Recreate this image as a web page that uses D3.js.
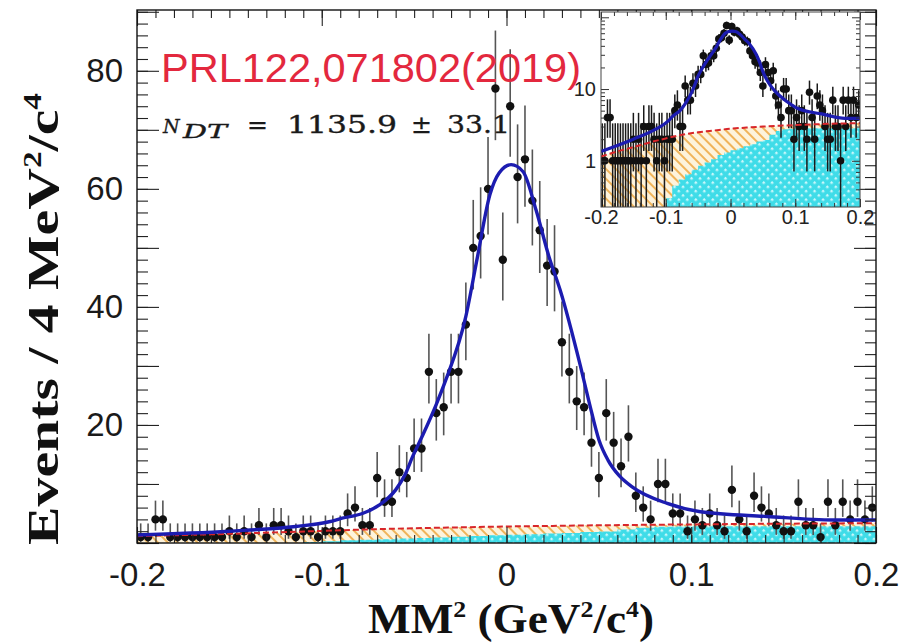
<!DOCTYPE html>
<html>
<head>
<meta charset="utf-8">
<script src="https://cdn.jsdelivr.net/npm/d3@7"></script>
<style>
  html, body { margin: 0; padding: 0; background: #fff; }
  svg { display: block; }
</style>
</head>
<body>
<svg id="chart" width="910" height="644"></svg>
<script>
// ---- data -------------------------------------------------------------
// MM^2 spectrum, 100 bins of 4 MeV^2/c^4 covering [-0.2, 0.2] GeV^2/c^4
const binLow = -0.2;
const binWidth = 0.004;
const counts = [
  1, 1, 4, 4, 1, 1, 1, 1, 1, 1,
  1, 1, 2, 1, 2, 1, 3, 1, 3, 3,
  2, 1, 2, 2, 1, 2, 2, 2, 5, 6,
  3, 3, 11, 7, 7, 12, 11, 16, 16, 29,
  22, 23, 29, 29, 37, 50, 52, 60, 77, 48,
  74, 62, 65, 58, 53, 47, 46, 34, 29, 24,
  23, 17, 11, 22, 17, 13, 18, 8, 6, 4,
  10, 10, 5, 5, 2, 4, 3, 5, 3, 2,
  9, 4, 2, 8, 6, 5, 3, 2, 2, 7,
  3, 3, 1, 7, 3, 7, 4, 7, 4, 6
];

// total fit (signal + background), sampled along MM^2
const fitX = [-0.200, -0.150, -0.114, -0.096, -0.089, -0.078, -0.069, -0.060, -0.055, -0.051,
              -0.045, -0.038, -0.033, -0.022, -0.016, -0.009, -0.004, 0.0025, 0.009, 0.016,
              0.023, 0.029, 0.040, 0.045, 0.050, 0.055, 0.061, 0.068, 0.087, 0.105,
              0.141, 0.177, 0.200];
const fitY = [1.35, 2.0, 2.8, 3.6, 4.2, 5.0, 6.4, 9.0, 11.5, 14.5,
              18.5, 23.5, 27.5, 38.4, 48.0, 59.0, 62.7, 64.1, 62.9, 56.4,
              48.5, 42.9, 30.0, 23.5, 17.5, 14.0, 11.4, 9.5, 6.7, 5.3,
              4.5, 3.9, 3.9];

// total background shape (red dashed)
const bkgX = [-0.200, -0.175, -0.150, -0.125, -0.100, -0.075, -0.050, -0.025, 0.000,
              0.025, 0.050, 0.075, 0.100, 0.150, 0.200];
const bkgY = [1.15, 1.35, 1.55, 1.8, 2.05, 2.3, 2.5, 2.65, 2.8,
              2.9, 3.0, 3.08, 3.15, 3.27, 3.35];

// peaking background component (cyan), 40 bins of 0.01 from -0.2
const peakBkgWidth = 0.01;
const peakBkg = [
  0, 0, 0, 0, 0, 0, 0, 0, 0, 0.15,
  0.3, 0.45, 0.55, 0.65, 0.75, 0.85, 0.95, 1.05, 1.2, 1.3,
  1.4, 1.5, 1.6, 1.7, 1.85, 1.95, 2.3, 2.6, 2.75, 2.8,
  2.85, 2.85, 2.85, 2.85, 2.85, 2.85, 2.85, 2.85, 2.85, 2.85
];

const xTickLabels = [-0.2, -0.1, 0, 0.1, 0.2];
const yTickLabels = [20, 40, 60, 80];
const insetYTickLabels = [1, 10];

// ---- helpers ----------------------------------------------------------
const centers = counts.map((_, i) => binLow + binWidth * (i + 0.5));
// approximate 68% Poisson interval (Gehrels)
const errLo = n => n === 0 ? 0 : n * Math.pow(1 - 1 / (9 * n) - 1 / (3 * Math.sqrt(n)), 3);
const errHi = n => n + 1 + Math.sqrt(n + 0.75);
const fmtX = d => d === 0 ? "0" : String(+d.toFixed(1));

const svg = d3.select("#chart");
const defs = svg.append("defs");

// hatch patterns
const po = defs.append("pattern").attr("id", "hatchOrange")
  .attr("patternUnits", "userSpaceOnUse").attr("width", 7).attr("height", 7)
  .attr("patternTransform", "rotate(-45)");
po.append("rect").attr("width", 7).attr("height", 7).attr("fill", "#fdf3dc");
po.append("line").attr("x1", 0).attr("y1", 0).attr("x2", 0).attr("y2", 7)
  .attr("stroke", "#f0b45a").attr("stroke-width", 4);

const pc = defs.append("pattern").attr("id", "hatchCyan")
  .attr("patternUnits", "userSpaceOnUse").attr("width", 6).attr("height", 6)
  .attr("patternTransform", "rotate(45)");
pc.append("rect").attr("width", 6).attr("height", 6).attr("fill", "#3fdce8");
pc.append("rect").attr("x", 2).attr("y", 2).attr("width", 2.4).attr("height", 2.4).attr("fill", "#c8f7fa");

// ---- main panel -------------------------------------------------------
const M = { x0: 137, x1: 876, y0: 10, y1: 543 };
const x = d3.scaleLinear().domain([-0.2, 0.2]).range([M.x0, M.x1]);
const y = d3.scaleLinear().domain([0, 90.3]).range([M.y1, M.y0]);

defs.append("clipPath").attr("id", "clipMain").append("rect")
  .attr("x", M.x0).attr("y", M.y0).attr("width", M.x1 - M.x0).attr("height", M.y1 - M.y0);

function drawPanel(g, xs, ys, opt) {
  const floor = ys.domain()[0];
  const cl = v => Math.max(v, floor);
  // stacked background: orange up to the total, cyan component in front
  const totArea = d3.area().x((d, i) => xs(bkgX[i])).y0(ys(floor)).y1((d, i) => ys(cl(d)))
    .curve(d3.curveMonotoneX);
  g.append("path").datum(bkgY).attr("d", totArea).attr("fill", "url(#hatchOrange)");
  const stepPts = [];
  peakBkg.forEach((v, i) => {
    stepPts.push([binLow + i * peakBkgWidth, v]);
    stepPts.push([binLow + (i + 1) * peakBkgWidth, v]);
  });
  const cyArea = d3.area().x(d => xs(d[0])).y0(ys(floor)).y1(d => ys(cl(d[1])));
  g.append("path").datum(stepPts).attr("d", cyArea).attr("fill", "url(#hatchCyan)");

  // data with error bars
  const eb = g.append("g");
  counts.forEach((n, i) => {
    eb.append("line")
      .attr("x1", xs(centers[i])).attr("x2", xs(centers[i]))
      .attr("y1", ys(cl(errLo(n)))).attr("y2", ys(errHi(n)))
      .attr("stroke", opt.errColor).attr("stroke-width", opt.errWidth);
  });
  g.append("g").selectAll("circle")
    .data(counts.map((n, i) => [centers[i], n]).filter(d => d[1] > 0 || !opt.log))
    .join("circle")
    .attr("cx", d => xs(d[0])).attr("cy", d => ys(cl(d[1])))
    .attr("r", opt.r).attr("fill", "#111");

  // total background line
  const bl = d3.line().x((d, i) => xs(bkgX[i])).y((d, i) => ys(cl(d))).curve(d3.curveMonotoneX);
  g.append("path").datum(bkgY).attr("d", bl).attr("fill", "none")
    .attr("stroke", "#d8262a").attr("stroke-width", opt.bkgWidth).attr("stroke-dasharray", "6,3");

  // total fit
  const fl = d3.line().x((d, i) => xs(fitX[i])).y((d, i) => ys(cl(d))).curve(d3.curveMonotoneX);
  g.append("path").datum(fitY).attr("d", fl).attr("fill", "none")
    .attr("stroke", "#1c1cb0").attr("stroke-width", opt.fitWidth);
}

const main = svg.append("g").attr("clip-path", "url(#clipMain)");
drawPanel(main, x, y, { r: 4.2, errColor: "#555", errWidth: 1.6, bkgWidth: 2, fitWidth: 3.4, log: false });

// main axes
const axisFont = "'Liberation Sans', Arial, sans-serif";
const xMinor = d3.range(0, 41).map(i => +(binLow + 0.01 * i).toFixed(3));
const yMinor = d3.range(0, 91, 2);
const yMajor = d3.range(0, 91, 10);

function tickStyle(sel) {
  sel.select(".domain").remove();
  sel.selectAll(".tick line").attr("stroke", "#222").attr("stroke-width", 1.1);
}

svg.append("g").attr("transform", `translate(0,${M.y1})`)
  .call(d3.axisBottom(x).tickValues(xMinor).tickSize(-8).tickFormat(""))
  .call(tickStyle);
svg.append("g").attr("transform", `translate(0,${M.y1})`)
  .call(d3.axisBottom(x).tickValues(xTickLabels).tickSize(-16).tickPadding(43).tickFormat(fmtX))
  .call(tickStyle)
  .call(g => g.selectAll("text").attr("font-family", axisFont).attr("font-size", 33)
    .attr("fill", "#1a1a1a").attr("dy", "0"));
svg.append("g").attr("transform", `translate(0,${M.y0})`)
  .call(d3.axisTop(x).tickValues(xMinor).tickSize(-8).tickFormat(""))
  .call(tickStyle);
svg.append("g").attr("transform", `translate(0,${M.y0})`)
  .call(d3.axisTop(x).tickValues(xTickLabels).tickSize(-16).tickFormat(""))
  .call(tickStyle);

svg.append("g").attr("transform", `translate(${M.x0},0)`)
  .call(d3.axisLeft(y).tickValues(yMinor).tickSize(-11).tickFormat(""))
  .call(tickStyle);
svg.append("g").attr("transform", `translate(${M.x0},0)`)
  .call(d3.axisLeft(y).tickValues(yMajor).tickSize(-22).tickFormat(""))
  .call(tickStyle);
svg.append("g").attr("transform", `translate(${M.x0},0)`)
  .call(d3.axisLeft(y).tickValues(yTickLabels).tickSize(0).tickPadding(14).tickFormat(d3.format("d")))
  .call(tickStyle)
  .call(g => g.selectAll("text").attr("font-family", axisFont).attr("font-size", 33).attr("fill", "#1a1a1a"));
svg.append("g").attr("transform", `translate(${M.x1},0)`)
  .call(d3.axisRight(y).tickValues(yMinor).tickSize(-11).tickFormat(""))
  .call(tickStyle);
svg.append("g").attr("transform", `translate(${M.x1},0)`)
  .call(d3.axisRight(y).tickValues(yMajor).tickSize(-22).tickFormat(""))
  .call(tickStyle);

svg.append("rect").attr("x", M.x0).attr("y", M.y0)
  .attr("width", M.x1 - M.x0).attr("height", M.y1 - M.y0)
  .attr("fill", "none").attr("stroke", "#111").attr("stroke-width", 1.4);

// axis titles
const titleFont = "'Liberation Serif', 'Times New Roman', serif";
const xt = svg.append("text").attr("x", 511).attr("y", 633).attr("text-anchor", "middle")
  .attr("font-family", titleFont).attr("font-weight", "bold").attr("font-size", 42).attr("fill", "#111")
  .attr("textLength", 286).attr("lengthAdjust", "spacingAndGlyphs");
xt.append("tspan").text("MM");
xt.append("tspan").attr("dy", -16).attr("font-size", 24).text("2");
xt.append("tspan").attr("dy", 16).text(" (GeV");
xt.append("tspan").attr("dy", -16).attr("font-size", 24).text("2");
xt.append("tspan").attr("dy", 16).text("/c");
xt.append("tspan").attr("dy", -16).attr("font-size", 24).text("4");
xt.append("tspan").attr("dy", 16).text(")");

const yt = svg.append("text").attr("transform", "translate(58,319) rotate(-90)")
  .attr("text-anchor", "middle")
  .attr("font-family", titleFont).attr("font-weight", "bold").attr("font-size", 45).attr("fill", "#111")
  .attr("textLength", 452).attr("lengthAdjust", "spacingAndGlyphs");
yt.append("tspan").text("Events / 4 MeV");
yt.append("tspan").attr("dy", -17).attr("font-size", 26).text("2");
yt.append("tspan").attr("dy", 17).text("/c");
yt.append("tspan").attr("dy", -17).attr("font-size", 26).text("4");

// ---- inset (log scale) -----------------------------------------------
const I = { x0: 601, x1: 860, y0: 12, y1: 207 };
const xi = d3.scaleLinear().domain([-0.2, 0.2]).range([I.x0, I.x1]);
const yi = d3.scaleLog().domain([0.227, 118.5]).range([I.y1, I.y0]);

svg.append("rect").attr("x", I.x0).attr("y", I.y0).attr("width", I.x1 - I.x0).attr("height", I.y1 - I.y0)
  .attr("fill", "#fff");
defs.append("clipPath").attr("id", "clipInset").append("rect")
  .attr("x", I.x0).attr("y", I.y0).attr("width", I.x1 - I.x0).attr("height", I.y1 - I.y0);
const inset = svg.append("g").attr("clip-path", "url(#clipInset)");
drawPanel(inset, xi, yi, { r: 3.8, errColor: "#1a1a1a", errWidth: 1.5, bkgWidth: 2, fitWidth: 3.2, log: true });

const xiMinor = d3.range(0, 21).map(i => +(binLow + 0.02 * i).toFixed(3));
const yiMinor = [0.3, 0.4, 0.5, 0.6, 0.7, 0.8, 0.9, 2, 3, 4, 5, 6, 7, 8, 9, 20, 30, 40, 50, 60, 70, 80, 90];
const yiMajor = [1, 10, 100];
function tickStyleI(sel) {
  sel.select(".domain").remove();
  sel.selectAll(".tick line").attr("stroke", "#333").attr("stroke-width", 1);
}
svg.append("g").attr("transform", `translate(0,${I.y1})`)
  .call(d3.axisBottom(xi).tickValues(xiMinor).tickSize(-4).tickFormat("")).call(tickStyleI);
svg.append("g").attr("transform", `translate(0,${I.y1})`)
  .call(d3.axisBottom(xi).tickValues(xTickLabels).tickSize(-8).tickPadding(17).tickFormat(fmtX))
  .call(tickStyleI)
  .call(g => g.selectAll("text").attr("font-family", axisFont).attr("font-size", 20).attr("fill", "#222").attr("dy", "0"));
svg.append("g").attr("transform", `translate(0,${I.y0})`)
  .call(d3.axisTop(xi).tickValues(xiMinor).tickSize(-4).tickFormat("")).call(tickStyleI);
svg.append("g").attr("transform", `translate(0,${I.y0})`)
  .call(d3.axisTop(xi).tickValues(xTickLabels).tickSize(-8).tickFormat("")).call(tickStyleI);
svg.append("g").attr("transform", `translate(${I.x0},0)`)
  .call(d3.axisLeft(yi).tickValues(yiMinor).tickSize(-4).tickFormat("")).call(tickStyleI);
svg.append("g").attr("transform", `translate(${I.x0},0)`)
  .call(d3.axisLeft(yi).tickValues(yiMajor).tickSize(-8).tickFormat("")).call(tickStyleI);
svg.append("g").attr("transform", `translate(${I.x0},0)`)
  .call(d3.axisLeft(yi).tickValues(insetYTickLabels).tickSize(0).tickPadding(5).tickFormat(d3.format("d")))
  .call(tickStyleI)
  .call(g => g.selectAll("text").attr("font-family", axisFont).attr("font-size", 20).attr("fill", "#222"));
svg.append("g").attr("transform", `translate(${I.x1},0)`)
  .call(d3.axisRight(yi).tickValues(yiMinor).tickSize(-4).tickFormat("")).call(tickStyleI);
svg.append("g").attr("transform", `translate(${I.x1},0)`)
  .call(d3.axisRight(yi).tickValues(yiMajor).tickSize(-8).tickFormat("")).call(tickStyleI);
svg.append("rect").attr("x", I.x0).attr("y", I.y0).attr("width", I.x1 - I.x0).attr("height", I.y1 - I.y0)
  .attr("fill", "none").attr("stroke", "#444").attr("stroke-width", 1);

// ---- annotations ------------------------------------------------------
svg.append("text").attr("x", 161).attr("y", 82)
  .attr("font-family", axisFont).attr("font-size", 40).attr("fill", "#e3283e")
  .attr("textLength", 420).attr("lengthAdjust", "spacingAndGlyphs")
  .text("PRL122,071802(2019)");

const yieldFont = "'DejaVu Serif', 'Liberation Serif', serif";
const ny = svg.append("g").attr("font-family", yieldFont).attr("fill", "#1a1a1a")
  .attr("stroke", "#1a1a1a").attr("stroke-width", 0.35);
ny.append("text").attr("x", 163).attr("y", 133).attr("font-size", 19).attr("font-style", "italic").text("N");
ny.append("text").attr("x", 183).attr("y", 138).attr("font-size", 19).attr("font-style", "italic")
  .attr("textLength", 44).attr("lengthAdjust", "spacingAndGlyphs").text("DT");
ny.append("text").attr("x", 247).attr("y", 133).attr("font-size", 25).text("=");
ny.append("text").attr("x", 287).attr("y", 133).attr("font-size", 25)
  .attr("textLength", 110).attr("lengthAdjust", "spacingAndGlyphs").text("1135.9");
ny.append("text").attr("x", 411).attr("y", 133).attr("font-size", 25).text("±");
ny.append("text").attr("x", 447).attr("y", 133).attr("font-size", 25)
  .attr("textLength", 63).attr("lengthAdjust", "spacingAndGlyphs").text("33.1");
</script>
</body>
</html>
